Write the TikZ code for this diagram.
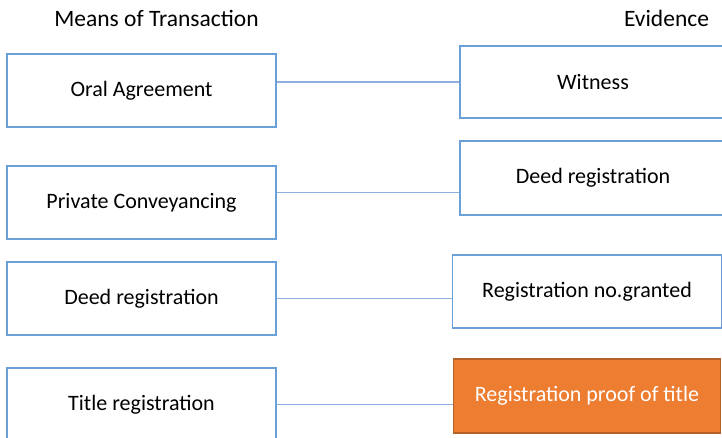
\documentclass[tikz,border=0pt]{standalone}
\usepackage{fontspec}
\setmainfont{Carlito}
\usetikzlibrary{positioning}
\definecolor{boxblue}{HTML}{6A9FD8}
\definecolor{linkblue}{HTML}{8FB0DF}
\definecolor{proofor}{HTML}{ED7D31}
\definecolor{proofedge}{HTML}{B5612A}

\begin{document}
\begin{tikzpicture}[x=1pt, y=-1pt,
	item/.style={draw=boxblue, line width=1.4pt, fill=white, minimum width=269pt, minimum height=73pt, inner sep=0pt, font=\fontsize{22}{26}\selectfont},
	link/.style={draw=linkblue, line width=1.1pt},
	head/.style={font=\fontsize{23.5}{28}\selectfont}]
	\useasboundingbox (0,0) rectangle (722,438);
	\node[head] (means) at (156.5,18) {Means of Transaction};
	\node[head] (evid) at (666.5,18) {Evidence};
	% left column
	\node[item] (oral) at (141.5,90.5) {Oral Agreement};
	\node[item, below=37.6pt of oral] (priv) {Private Conveyancing};
	\node[item, below=21.6pt of priv] (deedl) {Deed registration};
	\node[item, below=31.6pt of deedl] (title) {Title registration};
	% right column
	\node[item, minimum width=266pt, minimum height=72pt] (wit) at (593,82) {Witness};
	\node[item, minimum width=266pt, minimum height=74pt, below=21.6pt of wit] (deedr) {Deed registration};
	\node[item, below=38.6pt of deedr, xshift=-6pt] (regno) {Registration no.granted};
	\node[item, draw=proofedge, fill=proofor, text=white, minimum width=267pt, minimum height=74pt, below=29.6pt of regno] (proof) {Registration proof of title};
	\draw[link] (wit.west -| oral.east) -- (wit.west);
	\draw[link] ([yshift=10pt]priv.east) -- ([yshift=10pt]priv.east -| deedr.west);
	\draw[link] (deedl.east) -- (deedl.east -| regno.west);
	\draw[link] (title.east) -- (title.east -| proof.west);
\end{tikzpicture}
\end{document}
